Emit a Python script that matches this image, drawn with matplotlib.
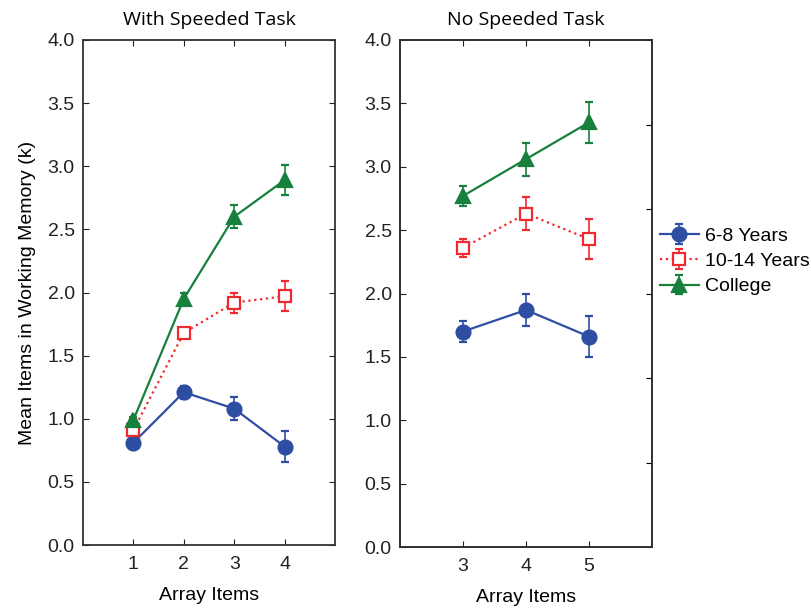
import numpy as np
import matplotlib.pyplot as plt

plt.rcParams['font.family'] = ['Liberation Sans', 'DejaVu Sans']

groups = ['6-8 Years', '10-14 Years', 'College']
colors = ['#2e4ea3', '#ee2a2e', '#17803d']
markers = ['o', 's', '^']
styles = ['-', ':', '-']

# With speeded task
x_left = [1, 2, 3, 4]
left_mean = [
    [0.81, 1.21, 1.08, 0.78],
    [0.91, 1.68, 1.92, 1.97],
    [0.99, 1.95, 2.60, 2.89],
]
left_err = [
    [0.02, 0.05, 0.09, 0.12],
    [0.03, 0.04, 0.08, 0.12],
    [0.02, 0.05, 0.09, 0.12],
]

# No speeded task
x_right = [3, 4, 5]
right_mean = [
    [1.70, 1.87, 1.66],
    [2.36, 2.63, 2.43],
    [2.77, 3.06, 3.35],
]
right_err = [
    [0.08, 0.13, 0.16],
    [0.07, 0.13, 0.16],
    [0.08, 0.13, 0.16],
]

fig = plt.figure(figsize=(8.11, 6.10), dpi=100)
ax1 = fig.add_axes([83 / 811, 65 / 610, 252 / 811, 505 / 610])
ax2 = fig.add_axes([400 / 811, 63 / 610, 252 / 811, 507 / 610])


def draw(ax, xs, means, errs):
    handles = []
    for i in range(3):
        mfc = 'white' if markers[i] == 's' else colors[i]
        h = ax.errorbar(xs, means[i], yerr=errs[i], color=colors[i],
                        linestyle=styles[i], linewidth=1.6, marker=markers[i],
                        markersize=10 if markers[i] != 's' else 8.5,
                        markerfacecolor=mfc, markeredgecolor=colors[i],
                        markeredgewidth=1.6, capsize=3, elinewidth=1.2,
                        label=groups[i])
        handles.append(h)
    ax.set_ylim(0, 4.0)
    ax.set_yticks(np.arange(0, 4.01, 0.5))
    ax.set_yticklabels(['%.1f' % v for v in np.arange(0, 4.01, 0.5)])
    ax.set_xticks(xs)
    ax.tick_params(direction='in', length=4, labelsize=14, colors='#222222',
                   top=True, pad=8)
    ax.tick_params(axis='y', pad=6)
    for s in ax.spines.values():
        s.set_linewidth(1.3)
        s.set_color('#333333')
    ax.set_xlabel('Array Items', fontsize=14, labelpad=10)
    return handles


handles = draw(ax1, x_left, left_mean, left_err)
ax1.set_xlim(0, 5)
ax1.tick_params(right=True)
ax1.set_title('With Speeded Task', fontsize=14, pad=11, family='Open Sans')
ax1.set_ylabel('Mean Items in Working Memory (k)', fontsize=14, labelpad=8)

draw(ax2, x_right, right_mean, right_err)
ax2.set_xlim(2, 6)
ax2.set_title('No Speeded Task', fontsize=14, pad=11, family='Open Sans')
ax2r = ax2.twinx()
ax2r.set_ylim(0, 4.0)
ax2r.set_yticks(np.linspace(0, 4, 7))
ax2r.set_yticklabels([])
ax2r.tick_params(direction='in', length=4)
for s in ax2r.spines.values():
    s.set_linewidth(1.3)
    s.set_color('#333333')

fig.legend(handles=handles, loc='upper left', bbox_to_anchor=(660 / 811, 1 - 227 / 610),
           frameon=False, fontsize=14, handlelength=2.0, handletextpad=0.3,
           labelspacing=0.4, borderaxespad=0, borderpad=0)

fig.savefig('out.png', dpi=100)
